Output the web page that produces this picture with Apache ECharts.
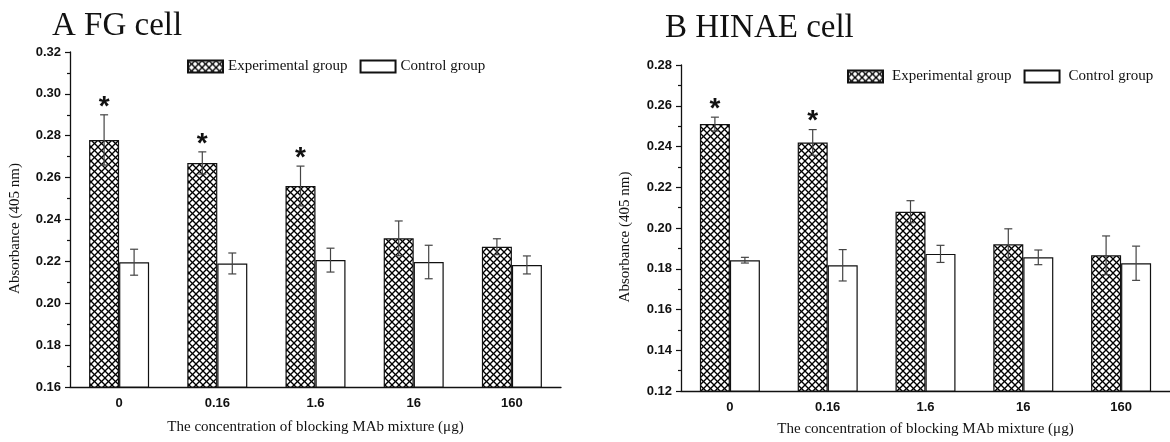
<!DOCTYPE html>
<html>
<head>
<meta charset="utf-8">
<script src="https://cdn.jsdelivr.net/npm/echarts@6/dist/echarts.min.js"></script>
<style>
  html, body { margin: 0; padding: 0; background: #fff; }
  #chart { width: 1170px; height: 442px; }
</style>
</head>
<body>
<div id="chart"></div>
<script>
// ---- Data ----
const categories = ['0', '0.16', '1.6', '16', '160'];
const seriesNames = ['Experimental group', 'Control group'];

// Panel A: FG cell
const titleA = 'A FG cell';
const expA = [0.278, 0.267, 0.256, 0.231, 0.227];
const expErrA = [0.012, 0.0053, 0.0095, 0.0083, 0.0038];
const ctrlA = [0.2196, 0.219, 0.2206, 0.2197, 0.2183];
const ctrlErrA = [0.0062, 0.005, 0.0057, 0.008, 0.0043];
const sigA = [1, 1, 1, 0, 0];
const yTicksA = { min: 0.16, max: 0.32, interval: 0.02 };

// Panel B: HINAE cell
const titleB = 'B HINAE cell';
const expB = [0.251, 0.242, 0.208, 0.192, 0.1866];
const expErrB = [0.0034, 0.0063, 0.0054, 0.0076, 0.0095];
const ctrlB = [0.1842, 0.1817, 0.1873, 0.1856, 0.1827];
const ctrlErrB = [0.0014, 0.0077, 0.0042, 0.0036, 0.0084];
const sigB = [1, 1, 0, 0, 0];
const yTicksB = { min: 0.12, max: 0.28, interval: 0.02 };

const xName = 'The concentration of blocking MAb mixture (\u03bcg)';
const yName = 'Absorbance (405 nm)';

// ---- Styles ----
const INK = '#111';
const SERIF = '"Liberation Serif", "Times New Roman", serif';
const SANS = '"Liberation Sans", Arial, sans-serif';
const BAR_W = 30;

function hatchPattern() {
  const s = 7;
  const c = document.createElement('canvas');
  c.width = s; c.height = s;
  const ctx = c.getContext('2d');
  ctx.fillStyle = '#fff';
  ctx.fillRect(0, 0, s, s);
  ctx.strokeStyle = '#000';
  ctx.lineWidth = 1.3;
  for (const k of [-s, 0, s]) {
    ctx.beginPath(); ctx.moveTo(k, 0); ctx.lineTo(k + s, s); ctx.stroke();
    ctx.beginPath(); ctx.moveTo(k + s, 0); ctx.lineTo(k, s); ctx.stroke();
  }
  return { image: c, repeat: 'repeat' };
}
const hatch = hatchPattern();

function errData(vals, errs, sig) {
  return vals.map((v, i) => [i, v, errs[i], sig ? sig[i] : 0]);
}

function errSeries(name, gi, vals, errs, sig, side) {
  return {
    type: 'custom',
    name: name + ' err',
    xAxisIndex: gi * 2, yAxisIndex: gi,
    z: 5,
    silent: true,
    data: errData(vals, errs, sig),
    renderItem: function (params, api) {
      const i = api.value(0), v = api.value(1), e = api.value(2), s = api.value(3);
      const top = api.coord([i, v + e]);
      const bot = api.coord([i, v - e]);
      const x = top[0] + side * BAR_W / 2;
      const cap = 4;
      const st = { stroke: '#444', lineWidth: 1.2 };
      const children = [
        { type: 'line', shape: { x1: x, y1: top[1], x2: x, y2: bot[1] }, style: st },
        { type: 'line', shape: { x1: x - cap, y1: top[1], x2: x + cap, y2: top[1] }, style: st },
        { type: 'line', shape: { x1: x - cap, y1: bot[1], x2: x + cap, y2: bot[1] }, style: st }
      ];
      if (s) {
        children.push({
          type: 'text',
          style: {
            text: '*', x: x, y: top[1] - 8,
            align: 'center', verticalAlign: 'middle',
            font: 'bold 28px ' + SANS, fill: INK
          }
        });
      }
      return { type: 'group', children: children };
    }
  };
}

function barSeries(name, gi, vals, fill) {
  return {
    type: 'bar',
    name: name,
    xAxisIndex: gi * 2, yAxisIndex: gi,
    data: vals,
    barWidth: BAR_W,
    barGap: '0%',
    itemStyle: { color: fill, borderColor: INK, borderWidth: 1.2 },
    emphasis: { disabled: true },
    z: 2
  };
}

function xAxes(gi, nameGap) {
  return [
    {
      type: 'category', gridIndex: gi, data: categories,
      axisLine: { lineStyle: { color: INK, width: 1.3 } },
      axisTick: { alignWithLabel: true, length: 6, lineStyle: { color: INK, width: 1.2 } },
      axisLabel: { color: INK, fontFamily: SANS, fontWeight: 'bold', fontSize: 13, margin: 10 },
      name: xName, nameLocation: 'middle', nameGap: nameGap,
      nameTextStyle: { color: INK, fontFamily: SERIF, fontSize: 15 }
    },
    {
      type: 'category', gridIndex: gi, data: categories,
      axisLine: { show: false },
      axisTick: { alignWithLabel: false, interval: 0, length: 3, lineStyle: { color: INK, width: 1.2 } },
      axisLabel: { show: false }
    }
  ];
}

function yAxis(gi, t, nameGap) {
  return {
    type: 'value', gridIndex: gi,
    min: t.min, max: t.max, interval: t.interval,
    splitLine: { show: false },
    axisLine: { show: true, lineStyle: { color: INK, width: 1.3 } },
    axisTick: { show: true, length: 5, lineStyle: { color: INK, width: 1.2 } },
    minorTick: { show: true, splitNumber: 2, length: 3, lineStyle: { color: INK, width: 1.2 } },
    axisLabel: {
      color: INK, fontFamily: SANS, fontWeight: 'bold', fontSize: 13, margin: 9,
      formatter: v => v.toFixed(2)
    },
    name: yName, nameLocation: 'middle', nameGap: nameGap,
    nameTextStyle: { color: INK, fontFamily: SERIF, fontSize: 15, padding: [0, 18, 0, 0] }
  };
}

function legend(left, top, textPad) {
  return {
    left: left, top: top,
    icon: 'rect',
    itemWidth: 35, itemHeight: 12, itemGap: 12,
    selectedMode: false,
    data: seriesNames,
    textStyle: { color: INK, fontFamily: SERIF, fontSize: 15, padding: [0, 0, 0, textPad] }
  };
}

const option = {
  animation: false,
  backgroundColor: '#fff',
  title: [
    { text: titleA, left: 47, top: 5, textStyle: { fontFamily: SERIF, fontSize: 33, fontWeight: 'normal', color: INK } },
    { text: titleB, left: 660, top: 7, textStyle: { fontFamily: SERIF, fontSize: 33, fontWeight: 'normal', color: INK } }
  ],
  legend: [legend(182, 54, 0), legend(842, 64, 4)],
  grid: [
    { left: 70, top: 52, width: 491, height: 335 },
    { left: 681, top: 65, width: 500, height: 327 }
  ],
  xAxis: [...xAxes(0, 33), ...xAxes(1, 31)],
  yAxis: [yAxis(0, yTicksA, 47), yAxis(1, yTicksB, 48)],
  series: [
    barSeries(seriesNames[0], 0, expA, hatch),
    barSeries(seriesNames[1], 0, ctrlA, '#fff'),
    barSeries(seriesNames[0], 1, expB, hatch),
    barSeries(seriesNames[1], 1, ctrlB, '#fff'),
    errSeries('A exp', 0, expA, expErrA, sigA, -1),
    errSeries('A ctrl', 0, ctrlA, ctrlErrA, null, 1),
    errSeries('B exp', 1, expB, expErrB, sigB, -1),
    errSeries('B ctrl', 1, ctrlB, ctrlErrB, null, 1)
  ]
};

const chart = echarts.init(document.getElementById('chart'), null, { renderer: 'canvas' });
chart.setOption(option);
</script>
</body>
</html>
